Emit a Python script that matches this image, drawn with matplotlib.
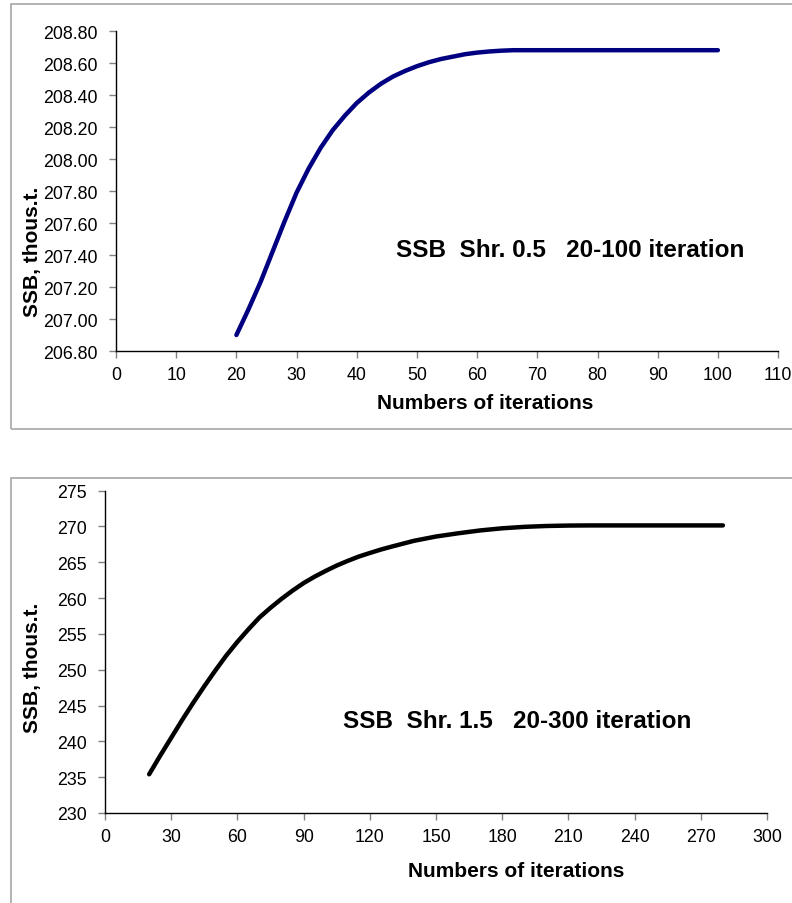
import matplotlib.pyplot as plt
from matplotlib.patches import Rectangle
from matplotlib.ticker import FormatStrFormatter

plt.rcParams['font.family'] = ['Liberation Sans', 'DejaVu Sans']

# top chart: shrinkage 0.5, 20-100 iterations
iter_a = [20, 22, 24, 26, 28, 30, 32, 34, 36, 38, 40, 42, 44, 46, 48, 50,
          52, 54, 56, 58, 60, 62, 64, 66, 70, 80, 90, 100]
ssb_a = [206.90, 207.06, 207.23, 207.42, 207.61, 207.79, 207.94, 208.07,
         208.18, 208.27, 208.35, 208.415, 208.47, 208.515, 208.55, 208.58,
         208.605, 208.625, 208.64, 208.655, 208.665, 208.672, 208.677, 208.68,
         208.68, 208.68, 208.68, 208.68]

# bottom chart: shrinkage 1.5, 20-300 iterations
iter_b = [20, 25, 30, 35, 40, 45, 50, 55, 60, 65, 70, 75, 80, 85, 90, 95,
          100, 105, 110, 115, 120, 125, 130, 140, 150, 160, 170, 180, 190,
          200, 210, 220, 240, 260, 280]
ssb_b = [235.4, 238.0, 240.5, 243.0, 245.4, 247.7, 249.9, 252.0, 253.9,
         255.65, 257.3, 258.65, 259.9, 261.05, 262.1, 263.0, 263.8, 264.55,
         265.2, 265.8, 266.3, 266.78, 267.2, 268.0, 268.6, 269.05, 269.45,
         269.75, 269.95, 270.07, 270.13, 270.15, 270.15, 270.15, 270.15]

fig = plt.figure(figsize=(7.92, 9.04), dpi=100)

# gray chart borders (cut off by the image edge like the original)
fig.patches.append(Rectangle((0.0139, 0.5243), 1.2, 0.4702, transform=fig.transFigure,
                             fill=False, edgecolor='#a6a6a6', linewidth=1.2))
fig.patches.append(Rectangle((0.0139, -0.2), 1.2, 0.6701, transform=fig.transFigure,
                             fill=False, edgecolor='#a6a6a6', linewidth=1.2))


def style(ax):
    for s in ['top', 'right']:
        ax.spines[s].set_visible(False)
    for s in ['left', 'bottom']:
        ax.spines[s].set_color('black')
        ax.spines[s].set_linewidth(1.0)
    ax.tick_params(axis='both', direction='out', length=5, width=1,
                   color='#808080', labelsize=12.8, labelcolor='black')
    ax.tick_params(axis='x', pad=6)
    ax.tick_params(axis='y', pad=8)


ax1 = fig.add_axes([0.1465, 0.6106, 0.8359, 0.354])
ax1.plot(iter_a, ssb_a, color='#000080', linewidth=3.2,
         solid_capstyle='round', solid_joinstyle='round')
ax1.set_xlim(0, 110)
ax1.set_ylim(206.8, 208.8)
ax1.set_xticks(range(0, 111, 10))
ax1.set_yticks([206.8 + 0.2 * i for i in range(11)])
ax1.yaxis.set_major_formatter(FormatStrFormatter('%.2f'))
style(ax1)
ax1.set_xlabel('Numbers of iterations', fontsize=15, fontweight='bold')
ax1.set_ylabel('SSB, thous.t.', fontsize=15, fontweight='bold')
ax1.xaxis.set_label_coords(0.557, -0.13)
ax1.yaxis.set_label_coords(-0.112, 0.3125)
ax1.text(0.423, 0.316, 'SSB  Shr. 0.5   20-100 iteration', transform=ax1.transAxes,
         fontsize=17.5, fontweight='bold', ha='left', va='center')

ax2 = fig.add_axes([0.1326, 0.0996, 0.8359, 0.3565])
ax2.plot(iter_b, ssb_b, color='black', linewidth=3.2,
         solid_capstyle='round', solid_joinstyle='round')
ax2.set_xlim(0, 300)
ax2.set_ylim(230, 275)
ax2.set_xticks(range(0, 301, 30))
ax2.set_yticks(range(230, 276, 5))
style(ax2)
ax2.set_xlabel('Numbers of iterations', fontsize=15, fontweight='bold')
ax2.set_ylabel('SSB, thous.t.', fontsize=15, fontweight='bold')
ax2.xaxis.set_label_coords(0.621, -0.148)
ax2.yaxis.set_label_coords(-0.095, 0.453)
ax2.text(0.3595, 0.2864, 'SSB  Shr. 1.5   20-300 iteration', transform=ax2.transAxes,
         fontsize=17.5, fontweight='bold', ha='left', va='center')

fig.savefig('out.png', dpi=100)
